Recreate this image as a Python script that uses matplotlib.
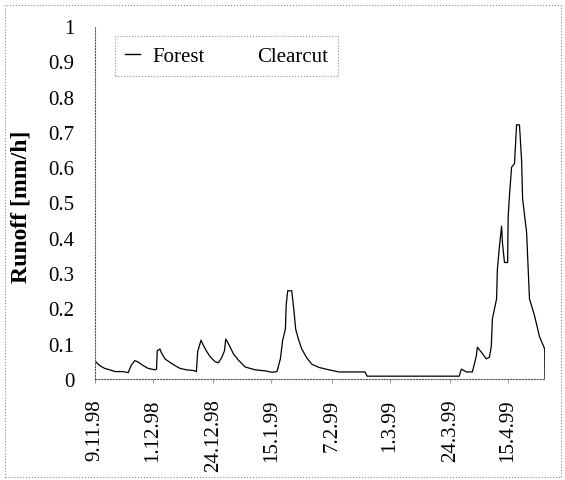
import matplotlib
matplotlib.use("Agg")
import matplotlib.pyplot as plt
from matplotlib.lines import Line2D
from matplotlib.patches import Rectangle
import pandas as pd

# ---- data (days after 9.11.98, runoff mm/h) ----
start_date = "1998-11-09"
forest_days = [0.0, 1.79, 3.70, 5.61, 7.63, 10.68, 12.59, 13.84, 15.14, 16.40, 18.31,
               20.21, 22.77, 23.38, 23.65, 24.68, 25.17, 26.58, 28.49, 30.40, 32.30,
               34.82, 37.38, 38.52, 39.02, 40.31, 41.19, 42.45, 43.75, 45.65, 46.91,
               48.17, 49.20, 49.69, 50.72, 52.63, 54.54, 57.09, 60.91, 64.72, 67.24,
               69.15, 70.44, 71.32, 72.35, 72.66, 73.23, 74.75, 75.51, 76.28, 77.42,
               78.57, 80.47, 82.38, 85.05, 87.72, 92.68, 102.59, 103.4,
               138.4, 139.2, 141.1, 143.4, 144.9, 145.3, 146.8, 148.7, 149.9,
               150.6, 151.0, 152.6, 152.9, 153.7, 154.5, 154.8, 155.6, 156.8, 157.0,
               157.5, 158.3, 159.4, 160.2, 161.3, 162.1, 162.5, 164.0, 165.1, 167.0,
               168.9, 170.9, 171.0]
forest_runoff = [0.051, 0.038, 0.030, 0.026, 0.021, 0.021, 0.018, 0.040, 0.052, 0.048, 0.038,
                 0.030, 0.026, 0.028, 0.080, 0.085, 0.075, 0.057, 0.047, 0.038, 0.030,
                 0.026, 0.024, 0.021, 0.078, 0.110, 0.095, 0.078, 0.063, 0.049, 0.046,
                 0.061, 0.080, 0.113, 0.100, 0.071, 0.053, 0.034, 0.026, 0.023, 0.019,
                 0.021, 0.057, 0.110, 0.142, 0.210, 0.250, 0.250, 0.200, 0.140, 0.110,
                 0.085, 0.060, 0.042, 0.033, 0.028, 0.020, 0.020, 0.008,
                 0.008, 0.028, 0.02, 0.02, 0.065, 0.09, 0.076, 0.057, 0.062,
                 0.093, 0.17, 0.227, 0.31, 0.377, 0.433, 0.388, 0.33, 0.33, 0.46,
                 0.52, 0.6, 0.61, 0.72, 0.72, 0.62, 0.51, 0.416, 0.227, 0.18,
                 0.12, 0.085, 0.0]
tick_labels = ["9.11.98", "1.12.98", "24.12.98", "15.1.99", "7.2.99", "1.3.99", "24.3.99", "15.4.99"]
y_ticks = [0, 0.1, 0.2, 0.3, 0.4, 0.5, 0.6, 0.7, 0.8, 0.9, 1]
y_tick_labels = ["0", "0.1", "0.2", "0.3", "0.4", "0.5", "0.6", "0.7", "0.8", "0.9", "1"]
series_names = ["Forest", "Clearcut"]

t0 = pd.Timestamp(start_date)
x = [t0 + pd.Timedelta(days=d) for d in forest_days]
tick_dates = [pd.to_datetime(s, format="%d.%m.%y") for s in tick_labels]

plt.rcParams['font.family'] = ['Liberation Serif', 'DejaVu Serif']

fig = plt.figure(figsize=(5.65, 4.81), dpi=100)
ax = fig.add_axes([95/565, 1-380/481, (545-95)/565, (380-27)/481])

ax.plot(x, forest_runoff, color="black", lw=0.9)

ax.set_xlim(t0, t0 + pd.Timedelta(days=171))
ax.set_ylim(0, 1)
ax.set_yticks(y_ticks)
ax.set_yticklabels(y_tick_labels, fontsize=15)
ax.set_xticks(tick_dates)
ax.set_xticklabels(tick_labels, rotation=90, fontsize=15)
ax.tick_params(axis='y', length=0, pad=15)
ax.tick_params(axis='x', length=3, width=0.6, color="#888888", pad=11, direction='out')

for s in ["top", "right"]:
    ax.spines[s].set_visible(False)
for s in ["left", "bottom"]:
    ax.spines[s].set_linestyle(":")
    ax.spines[s].set_color("#555555")
    ax.spines[s].set_linewidth(0.8)

ax.set_ylabel("Runoff [mm/h]", fontsize=17, fontweight="bold")
ax.yaxis.set_label_coords(-0.142, 0.49)

handles = [Line2D([0], [0], color="black", lw=1.0),
           Line2D([0], [0], color="white", lw=1.0)]
leg = ax.legend(handles, series_names, ncol=2, fontsize=15,
                loc="upper left", bbox_to_anchor=((115-95)/450, (380-37)/353),
                handlelength=0.7, handletextpad=0.6, columnspacing=1.2,
                frameon=True, fancybox=False, borderpad=0.5, borderaxespad=0)
fr = leg.get_frame()
fr.set_linestyle(":")
fr.set_edgecolor("#777777")
fr.set_linewidth(0.8)

fig.patches.append(Rectangle((5/565, 3/481), 556/565, 472/481, transform=fig.transFigure,
                             fill=False, ls=":", lw=0.8, ec="#888888"))

fig.savefig("out.png", dpi=100)
